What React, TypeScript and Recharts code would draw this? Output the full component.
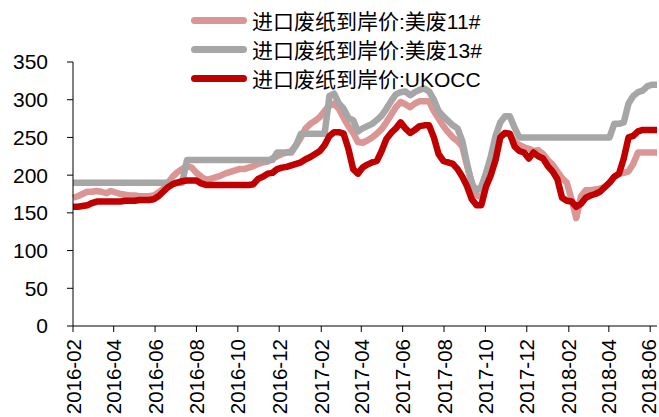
import { Line, LineChart, XAxis, YAxis } from 'recharts';

const FONT = '"Liberation Sans", Arial, "Noto Sans CJK SC", sans-serif';
const START = Date.UTC(2016, 1, 1);
const DAY = 86400000;

const SERIES_NAMES = ['进口废纸到岸价:美废11#', '进口废纸到岸价:美废13#', '进口废纸到岸价:UKOCC'];
const COLORS = ['#D99694', '#A6A6A6', '#C00000'];

const TICK_LABELS = [
  '2016-02', '2016-04', '2016-06', '2016-08', '2016-10', '2016-12', '2017-02', '2017-04',
  '2017-06', '2017-08', '2017-10', '2017-12', '2018-02', '2018-04', '2018-06',
];
const Y_TICKS = [0, 50, 100, 150, 200, 250, 300, 350];

// weekly observations starting 2016-02-01 (days since start)
const WEEKS = Array.from({ length: 124 }, (_, i) => i * 7);

const US11 = [
  170, 172, 175, 178, 178, 179, 178, 176, 179, 177,
  175, 174, 173, 173, 172, 172, 172, 173, 177, 182,
  190, 198, 204, 208, 212, 210, 203, 198, 194, 195,
  197, 199, 202, 204, 206, 208, 208, 210, 212, 215,
  217, 218, 222, 225, 228, 230, 232, 240, 250, 262,
  268, 272, 277, 285, 292, 295, 288, 276, 265, 256,
  244, 243, 246, 250, 255, 261, 270, 280, 290, 297,
  294, 290, 295, 298, 298, 298, 285, 275, 265, 257,
  250, 245, 238, 212, 190, 173, 171, 190, 208, 230,
  252, 256, 254, 244, 240, 237, 235, 232, 233, 228,
  220, 214, 205, 196, 190, 168, 143, 172, 180, 180,
  181, 182, 184, 190, 198, 202, 203, 205, 215, 230,
  230, 230, 230, 230,
];

const US13 = [
  190, 190, 190, 190, 190, 190, 190, 190, 190, 190,
  190, 190, 190, 190, 190, 190, 190, 190, 190, 190,
  190, 190, 190, 190, 220, 220, 220, 220, 220, 220,
  220, 220, 220, 220, 220, 220, 220, 220, 220, 220,
  220, 220, 220, 230, 230, 230, 230, 240, 255, 255,
  255, 255, 255, 255, 305, 308, 295, 288, 276, 273,
  258, 262, 265, 268, 273, 279, 288, 298, 307, 310,
  311, 306, 310, 313, 315, 311, 300, 285, 278, 272,
  266, 262, 245, 215, 188, 180, 185, 203, 225, 252,
  270, 278, 278, 263, 250, 250, 250, 250, 250, 250,
  250, 250, 250, 250, 250, 250, 250, 250, 250, 250,
  250, 250, 250, 250, 268, 268, 270, 295, 305, 310,
  312, 318, 320, 320,
];

const UKOCC = [
  158, 158, 159, 160, 163, 165, 165, 165, 165, 165,
  165, 166, 166, 166, 167, 167, 167, 168, 172, 178,
  184, 188, 190, 192, 193, 193, 193, 189, 187, 187,
  187, 187, 187, 187, 187, 187, 187, 187, 188, 195,
  198, 202, 203, 208, 210, 211, 213, 215, 217, 221,
  224, 228, 232, 240, 252, 257, 257, 255, 235, 208,
  202, 210, 214, 217, 219, 232, 248, 256, 262, 270,
  262, 256, 260, 265, 266, 266, 250, 228, 219, 217,
  215, 208, 198, 185, 168, 160, 160, 185, 200, 220,
  250, 256, 255, 238, 232, 230, 222, 230, 225, 222,
  212, 205, 195, 170, 166, 165, 158, 162, 170, 173,
  175, 178, 184, 190, 198, 202, 222, 250, 252, 258,
  260, 260, 260, 260,
];

const labelDay = (s: string) => {
  const [y, m] = s.split('-').map(Number);
  return (Date.UTC(y, m - 1, 1) - START) / DAY;
};
const X_TICKS = TICK_LABELS.map(labelDay);

const data = WEEKS.map((d, i) => ({ d, a: US11[i], b: US13[i], c: UKOCC[i] }));

function XTick(props: any) {
  const { x, y, payload } = props;
  const idx = X_TICKS.indexOf(payload.value);
  // keep the last label inside the right edge of the picture
  const cx = idx === TICK_LABELS.length - 1 ? x - 1.5 : x;
  return (
    <text
      x={cx}
      y={y}
      transform={`rotate(-90 ${cx} ${y})`}
      textAnchor="end"
      dominantBaseline="central"
      fontSize={20.5}
      fontFamily={FONT}
      fill="#000"
    >
      {TICK_LABELS[idx]}
    </text>
  );
}

const LEGEND_Y = [20, 49, 78];

export default function App() {
  return (
    <div style={{ position: 'absolute', left: 0, top: 0, width: 659, height: 417, background: '#fff' }}>
      <LineChart width={659} height={417} data={data} margin={{ top: 62, right: 2, bottom: 0, left: 0 }}>
        <XAxis
          dataKey="d"
          type="number"
          domain={[0, 861]}
          ticks={X_TICKS}
          interval={0}
          height={91}
          tickSize={6}
          tickMargin={7}
          axisLine={{ stroke: '#000' }}
          tickLine={{ stroke: '#000' }}
          tick={<XTick />}
        />
        <YAxis
          type="number"
          domain={[0, 350]}
          ticks={Y_TICKS}
          interval={0}
          width={73}
          tickSize={6}
          tickMargin={19}
          axisLine={{ stroke: '#000' }}
          tickLine={{ stroke: '#000' }}
          tick={{ fontSize: 21, fontFamily: FONT, fill: '#000' }}
        />
        {['a', 'b', 'c'].map((k, i) => (
          <Line
            key={k}
            dataKey={k}
            name={SERIES_NAMES[i]}
            type="linear"
            stroke={COLORS[i]}
            strokeWidth={6.5}
            strokeLinejoin="round"
            dot={false}
            isAnimationActive={false}
          />
        ))}
      </LineChart>
      {SERIES_NAMES.map((name, i) => (
        <div
          key={name}
          style={{
            position: 'absolute',
            left: 191,
            top: LEGEND_Y[i] - 13,
            height: 26,
            display: 'flex',
            alignItems: 'center',
            fontFamily: FONT,
            fontSize: 21,
            color: '#000',
            whiteSpace: 'nowrap',
          }}
        >
          <div style={{ width: 56, height: 7, borderRadius: 3.5, background: COLORS[i], marginRight: 5 }} />
          <span>{name}</span>
        </div>
      ))}
    </div>
  );
}
